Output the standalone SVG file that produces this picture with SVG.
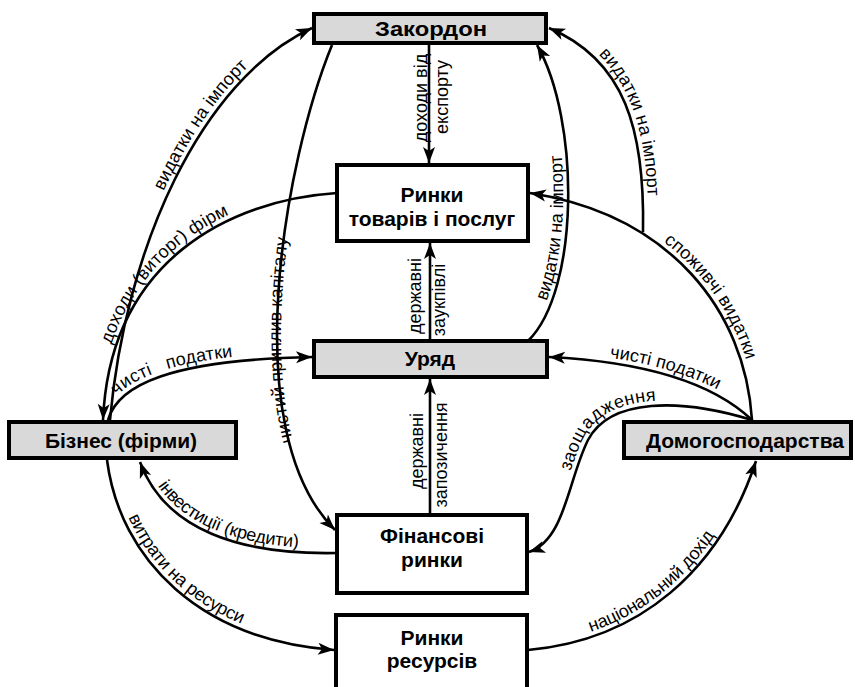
<svg xmlns="http://www.w3.org/2000/svg" width="855" height="687" viewBox="0 0 855 687">
<defs>
<style>
.box{stroke:#000;stroke-width:4}
.g{fill:#d9d9d9}
.w{fill:#fff}
.t{font-family:"Liberation Sans",Arial,sans-serif;font-size:21px;font-weight:bold;text-anchor:middle;fill:#000}
.c{fill:none;stroke:#000;stroke-width:2.6;marker-end:url(#ah)}
.l{font-family:"Liberation Sans",Arial,sans-serif;font-size:18px;fill:#000}
</style>
<marker id="ah" markerUnits="userSpaceOnUse" markerWidth="16" markerHeight="12" refX="16" refY="6" orient="auto" overflow="visible"><path d="M0,0 L16,6 L0,12 L4,6 z" fill="#000"/></marker>
<path id="tp5" d="M103,420 C110,260 230,200 337,193"/>
<path id="tp7" d="M335,530 C235,430 285,160 332,45"/>
<path id="tp8" d="M140,462 C165,530 240,555 337,553"/>
<path id="tp11" d="M529,552 C565,540 568,480 588,440 C610,398 680,398 752,420"/>
<path id="tp12" d="M549,357 C650,362 715,385 752,420"/>
<path id="tp13" d="M530,193 C670,215 745,310 752,420"/>
<path id="tp14" d="M549,28 C625,60 645,130 643,232"/>
</defs>
<rect width="855" height="687" fill="#fff"/>
<g id="connectors">
<path id="c1" class="c" d="M429,45 L429,163"/>
<path id="c2" class="c" d="M430,339 L430,243"/>
<path id="c3" class="c" d="M430,513 L430,379"/>
<path id="c4" class="c" d="M108,420 C118,385 170,360 312,357"/>
<path id="c5" class="c" d="M337,193 C230,200 110,260 103,420"/>
<path id="c6" class="c" d="M110,420 C125,250 200,80 312,28"/>
<path id="c7" class="c" d="M332,45 C285,160 235,430 335,530"/>
<path id="c8" class="c" d="M337,553 C240,555 165,530 140,462"/>
<path id="c9" class="c" d="M107,460 C120,560 200,640 334,650"/>
<path id="c10" class="c" d="M528,650 C640,640 720,570 756,461"/>
<path id="c11" class="c" d="M752,420 C680,398 610,398 588,440 C568,480 565,540 529,552"/>
<path id="c12" class="c" d="M752,420 C715,385 650,362 549,357"/>
<path id="c13" class="c" d="M752,420 C745,310 670,215 530,193"/>
<path id="c14" class="c" d="M643,232 C645,130 625,60 549,28"/>
<path id="c15" class="c" d="M528,341 C580,290 580,120 537,45"/>
</g>
<g id="labels">
<text class="l" transform="rotate(-90)" text-anchor="middle"><tspan x="-98" y="427">доходи від</tspan><tspan x="-97" y="448">експорту</tspan></text>
<text class="l" transform="rotate(-90)" text-anchor="middle"><tspan x="-296" y="421">державні</tspan><tspan x="-300" y="445">заукпівлі</tspan></text>
<text class="l" transform="rotate(-90)" text-anchor="middle"><tspan x="-451" y="423">державні</tspan><tspan x="-455" y="447">запозичення</tspan></text>
<text class="l" dy="-5" xml:space="preserve"><textPath href="#c4" startOffset="24">чисті   податки</textPath></text>
<text class="l" dy="-5"><textPath href="#tp5" startOffset="75">доходи (виторг) фірм</textPath></text>
<text class="l" dy="-5"><textPath href="#c6" startOffset="235">видатки на імпорт</textPath></text>
<text class="l" dy="4"><textPath href="#tp7" startOffset="100">чистий приплив капіталу</textPath></text>
<text class="l" dy="-5"><textPath href="#tp8" startOffset="30">інвестиції (кредити)</textPath></text>
<text class="l" dy="-5"><textPath href="#c9" startOffset="62">витрати на ресурси</textPath></text>
<text class="l" dy="-5"><textPath href="#c10" startOffset="66">національний дохід</textPath></text>
<text class="l" dy="-5"><textPath href="#tp11" startOffset="95">заощадження</textPath></text>
<text class="l" dy="-5"><textPath href="#tp12" startOffset="60">чисті податки</textPath></text>
<text class="l" dy="-5"><textPath href="#tp13" startOffset="142">споживчі видатки</textPath></text>
<text class="l" dy="-5"><textPath href="#tp14" startOffset="55">видатки на імпорт</textPath></text>
<text class="l" dy="-5"><textPath href="#c15" startOffset="45">видатки на імпорт</textPath></text>
</g>
<g id="zakordon"><rect class="box g" x="314" y="14" width="232" height="29"/><text class="t" x="431" y="36" textLength="112" lengthAdjust="spacingAndGlyphs">Закордон</text></g>
<g id="rynky-tovariv"><rect class="box w" x="337" y="165" width="191" height="76"/><text class="t" x="432" y="202">Ринки</text><text class="t" x="432" y="226">товарів і послуг</text></g>
<g id="uriad"><rect class="box g" x="314" y="341" width="233" height="36"/><text class="t" x="430" y="366">Уряд</text></g>
<g id="biznes"><rect class="box g" x="9" y="422" width="227" height="36"/><text class="t" x="121" y="448">Бізнес (фірми)</text></g>
<g id="domohospodarstva"><rect class="box g" x="624" y="422" width="227" height="36"/><text class="t" x="745" y="448">Домогосподарства</text></g>
<g id="finansovi"><rect class="box w" x="337" y="515" width="190" height="78"/><text class="t" x="432" y="543">Фінансові</text><text class="t" x="432" y="567">ринки</text></g>
<g id="rynky-resursiv"><rect class="box w" x="336" y="615" width="191" height="90"/><text class="t" x="432" y="645">Ринки</text><text class="t" x="432" y="668">ресурсів</text></g>
</svg>
